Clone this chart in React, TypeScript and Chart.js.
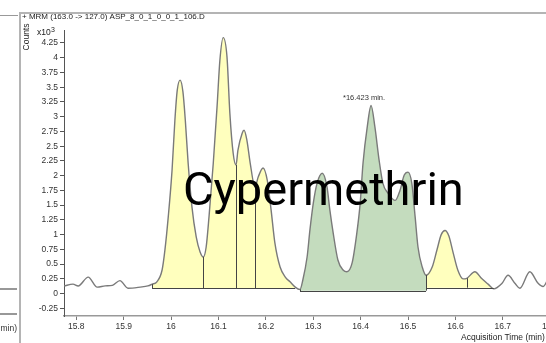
import React, { useEffect, useRef } from "react";
import { Chart, registerables } from "chart.js";

Chart.register(...registerables);

// Acquisition time (min) and counts (x10^3)
const times = [
  15.774, 15.793, 15.804, 15.825, 15.844, 15.861, 15.876, 15.892, 15.909, 15.935,
  15.951, 15.96, 15.97, 15.981, 15.987, 15.994, 16.002, 16.008, 16.013, 16.019,
  16.025, 16.03, 16.036, 16.044, 16.053, 16.061, 16.068, 16.074, 16.08, 16.089,
  16.097, 16.103, 16.11, 16.118, 16.124, 16.131, 16.137, 16.141, 16.15, 16.154,
  16.16, 16.167, 16.177, 16.184, 16.194, 16.203, 16.211, 16.219, 16.23, 16.241,
  16.251, 16.262, 16.272, 16.278, 16.287, 16.293, 16.3, 16.308, 16.319, 16.329,
  16.335, 16.342, 16.352, 16.363, 16.371, 16.382, 16.392, 16.399, 16.405, 16.414,
  16.422, 16.43, 16.439, 16.447, 16.458, 16.473, 16.483, 16.492, 16.5, 16.508,
  16.515, 16.521, 16.53, 16.538, 16.551, 16.561, 16.57, 16.578, 16.586, 16.595,
  16.605, 16.616, 16.624, 16.641, 16.656, 16.669, 16.681, 16.698, 16.711, 16.726,
  16.736, 16.757, 16.774, 16.785, 16.804, 16.821, 16.842, 16.863, 16.884,
];
const counts = [
  0.13, 0.16, 0.13, 0.28, 0.11, 0.13, 0.14, 0.22, 0.09, 0.11,
  0.13, 0.16, 0.2, 0.4, 0.74, 1.3, 2.09, 2.94, 3.45, 3.62,
  3.42, 2.94, 2.21, 1.47, 0.96, 0.71, 0.62, 0.79, 1.3, 2.21,
  3.17, 3.96, 4.34, 4.01, 3.06, 2.38, 2.18, 2.43, 2.72, 2.77,
  2.6, 2.21, 1.81, 1.98, 2.13, 1.92, 1.42, 0.86, 0.45, 0.28,
  0.2, 0.11, 0.07, 0.23, 0.62, 1.08, 1.53, 1.87, 2.04, 1.81,
  1.42, 1.03, 0.57, 0.4, 0.37, 0.52, 1.03, 1.53, 2.21, 2.83,
  3.19, 2.83, 2.26, 1.87, 1.7, 1.58, 1.75, 2.01, 2.06, 1.87,
  1.3, 0.79, 0.45, 0.31, 0.45, 0.74, 1.0, 1.07, 0.98, 0.7,
  0.4, 0.25, 0.26, 0.37, 0.25, 0.16, 0.08, 0.17, 0.31, 0.17,
  0.09, 0.37, 0.18, 0.12, 0.36, 0.11, 0.26, 0.1, 0.22,
];

// Integrated regions
const regionStarts = [15.96, 16.272, 16.538];
const regionEnds = [16.262, 16.538, 16.681];
const regionBases = [0.09, 0.05, 0.1];
const regionColors = ["rgb(255,255,190)", "rgb(196,220,190)", "rgb(255,255,190)"];
const dropTimes = [16.068, 16.137, 16.177, 16.538, 16.624];

const xTicks = [15.8, 15.9, 16, 16.1, 16.2, 16.3, 16.4, 16.5, 16.6, 16.7, 16.8];
const xTickLabels = ["15.8", "15.9", "16", "16.1", "16.2", "16.3", "16.4", "16.5", "16.6", "16.7", "16.8"];
const yTicks = [-0.25, 0, 0.25, 0.5, 0.75, 1, 1.25, 1.5, 1.75, 2, 2.25, 2.5, 2.75, 3, 3.25, 3.5, 3.75, 4, 4.25];
const yTickLabels = ["-0.25", "0", "0.25", "0.5", "0.75", "1", "1.25", "1.5", "1.75", "2", "2.25", "2.5", "2.75", "3", "3.25", "3.5", "3.75", "4", "4.25"];

const peakTime = 16.422;
const peakLabel = "*16.423 min.";
const compoundName = "Cypermethrin";
const title = "+ MRM (163.0 -> 127.0) ASP_8_0_1_0_0_1_106.D";
const FONT = "'Liberation Sans', Arial, sans-serif";

const points = times.map((t, i) => ({ x: t, y: counts[i] }));

function valueAt(t: number) {
  const i = times.findIndex((v) => Math.abs(v - t) < 1e-9);
  return i >= 0 ? counts[i] : 0;
}

const overlay = {
  id: "overlay",
  afterDatasetsDraw(chart: any) {
    const { ctx, scales } = chart;
    const xs = scales.x;
    const ys = scales.y;
    ctx.save();
    ctx.strokeStyle = "#444";
    ctx.lineWidth = 1;
    // baselines and region edges
    regionStarts.forEach((s, i) => {
      const e = regionEnds[i];
      const yb = Math.round(ys.getPixelForValue(regionBases[i])) + 0.5;
      ctx.beginPath();
      ctx.moveTo(xs.getPixelForValue(s), yb);
      ctx.lineTo(xs.getPixelForValue(e), yb);
      ctx.moveTo(Math.round(xs.getPixelForValue(s)) + 0.5, yb);
      ctx.lineTo(Math.round(xs.getPixelForValue(s)) + 0.5, ys.getPixelForValue(valueAt(s)));
      ctx.stroke();
    });
    // drop lines
    dropTimes.forEach((t) => {
      let base = regionBases[0];
      regionStarts.forEach((s, i) => {
        if (t > s && t <= regionEnds[i]) base = regionBases[i];
      });
      const px = Math.round(xs.getPixelForValue(t)) + 0.5;
      ctx.beginPath();
      ctx.moveTo(px, ys.getPixelForValue(base));
      ctx.lineTo(px, ys.getPixelForValue(valueAt(t)));
      ctx.stroke();
    });
    // peak label
    ctx.fillStyle = "#333";
    ctx.font = `7.5px ${FONT}`;
    ctx.textAlign = "center";
    ctx.textBaseline = "alphabetic";
    ctx.fillText(peakLabel, xs.getPixelForValue(peakTime) - 7, ys.getPixelForValue(valueAt(peakTime)) - 5);
    // compound name
    ctx.fillStyle = "#000";
    ctx.font = `47px Roboto, sans-serif`;
    ctx.textAlign = "left";
    ctx.fillText(compoundName, 183, 205);
    ctx.restore();
  },
  afterDraw(chart: any) {
    const { ctx } = chart;
    ctx.save();
    // panel frame and neighbouring-panel remnants
    ctx.strokeStyle = "#b4b4b4";
    ctx.lineWidth = 2;
    ctx.beginPath();
    ctx.moveTo(20, 343);
    ctx.lineTo(20, 13);
    ctx.lineTo(600, 13);
    ctx.stroke();
    ctx.strokeStyle = "#999";
    ctx.lineWidth = 1;
    ctx.beginPath();
    ctx.moveTo(0, 15.5);
    ctx.lineTo(18, 15.5);
    ctx.stroke();
    ctx.strokeStyle = "#777";
    ctx.lineWidth = 1.5;
    ctx.beginPath();
    ctx.moveTo(0, 289);
    ctx.lineTo(17, 289);
    ctx.moveTo(0, 314);
    ctx.lineTo(17, 314);
    ctx.stroke();
    ctx.fillStyle = "#333";
    ctx.font = `8.5px ${FONT}`;
    ctx.textAlign = "right";
    ctx.textBaseline = "middle";
    ctx.fillText("min)", 17, 329);
    // header
    ctx.textAlign = "left";
    ctx.fillStyle = "#222";
    ctx.font = `8px ${FONT}`;
    ctx.fillText(title, 22, 17);
    ctx.font = `8.5px ${FONT}`;
    ctx.fillText("x10", 37, 33);
    ctx.font = `7px ${FONT}`;
    ctx.fillText("3", 51, 30);
    // Counts (rotated)
    ctx.font = `8.5px ${FONT}`;
    ctx.save();
    ctx.translate(27, 37);
    ctx.rotate(-Math.PI / 2);
    ctx.textAlign = "center";
    ctx.fillText("Counts", 0, 0);
    ctx.restore();
    // x axis title
    ctx.textAlign = "left";
    ctx.fillText("Acquisition Time (min)", 461, 338);
    ctx.restore();
  },
};

export default function App() {
  const ref = useRef<HTMLCanvasElement | null>(null);
  useEffect(() => {
    if (!ref.current) return;
    const regionSets = regionStarts.map((s, i) => ({
      data: points.filter((p) => p.x >= s - 1e-9 && p.x <= regionEnds[i] + 1e-9),
      borderColor: "rgba(0,0,0,0)",
      borderWidth: 0,
      backgroundColor: regionColors[i],
      fill: { value: regionBases[i] },
      pointRadius: 0,
      cubicInterpolationMode: "monotone" as const,
      order: 1,
    }));
    const chart = new Chart(ref.current, {
      type: "line",
      data: {
        datasets: [
          {
            data: points,
            borderColor: "#7a7a7a",
            borderWidth: 1.4,
            pointRadius: 0,
            fill: false,
            cubicInterpolationMode: "monotone",
            order: 0,
          },
          ...regionSets,
        ] as any,
      },
      options: {
        animation: false,
        responsive: true,
        maintainAspectRatio: false,
        layout: { padding: { top: 30, right: 10, left: 0, bottom: 0 } },
        plugins: { legend: { display: false }, tooltip: { enabled: false } },
        scales: {
          x: {
            type: "linear",
            min: 15.774,
            max: 16.884,
            afterBuildTicks: (s: any) => {
              s.ticks = xTicks.map((v) => ({ value: v }));
            },
            afterFit: (s: any) => {
              s.height = 27;
            },
            ticks: {
              autoSkip: false,
              maxRotation: 0,
              padding: 2,
              color: "#333",
              font: { family: FONT, size: 8.5 },
              callback: (_v: any, i: number) => xTickLabels[i],
            },
            grid: { drawOnChartArea: false, tickLength: 4, color: "#777" },
            border: { color: "#999", width: 1.5 },
          },
          y: {
            type: "linear",
            min: -0.38,
            max: 4.47,
            afterBuildTicks: (s: any) => {
              s.ticks = yTicks.map((v) => ({ value: v }));
            },
            afterFit: (s: any) => {
              s.width = 64;
            },
            ticks: {
              autoSkip: false,
              padding: 2,
              color: "#333",
              font: { family: FONT, size: 8.5 },
              callback: (_v: any, i: number) => yTickLabels[i],
            },
            grid: { drawOnChartArea: false, tickLength: 4, color: "#555" },
            border: { color: "#555", width: 1 },
          },
        },
      },
      plugins: [overlay],
    });
    return () => chart.destroy();
  }, []);
  return (
    <div style={{ position: "fixed", left: 0, top: 0, width: 546, height: 343, overflow: "hidden", background: "#fff" }}>
      <div style={{ position: "relative", width: 600, height: 343 }}>
        <canvas ref={ref} />
      </div>
    </div>
  );
}
